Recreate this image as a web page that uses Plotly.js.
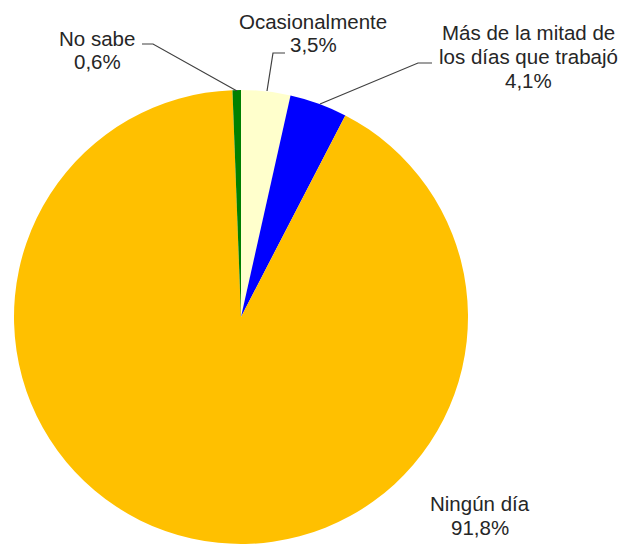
<!DOCTYPE html>
<html>
<head>
<meta charset="utf-8">
<script src="https://cdn.plot.ly/plotly-3.0.1.min.js"></script>
<style>
html,body{margin:0;padding:0;background:#fff;}
#chart{width:623px;height:545px;}
</style>
</head>
<body>
<div id="chart"></div>
<script>
// Data
const categories = ["Ocasionalmente", "Más de la mitad de<br>los días que trabajó", "Ningún día", "No sabe"];
const values = [3.5, 4.1, 91.8, 0.6];
const colors = ["#FFFFCC", "#0000FF", "#FFC000", "#008000"];

const W = 623, H = 545;
const px = x => x / W;
const py = y => (H - y) / H;

// Label centres (pixels) and leader-line paths (pixels)
const labelPos = [
  [313, 33],
  [528, 56.5],
  [480, 515.5],
  [97, 50]
];
const lineGap = 23.5;
const leaders = [
  [[285, 53], [273, 53], [267, 91]],
  [[432, 63], [418, 63], [320, 104]],
  null,
  [[142, 44], [153, 44], [237, 91]]
];

const fmt = v => v.toFixed(1).replace('.', ',') + '%';

const trace = {
  type: 'pie',
  labels: categories,
  values: values,
  marker: {colors: colors, line: {width: 0}},
  sort: false,
  direction: 'clockwise',
  rotation: 0,
  textinfo: 'none',
  hoverinfo: 'label+percent',
  domain: {x: [px(14), px(468)], y: [py(544), py(90)]},
  showlegend: false
};

const font = {family: 'Liberation Sans, Arial, sans-serif', size: 20.5, color: '#262626'};

const annotations = [];
categories.forEach((c, i) => {
  const lines = c.split('<br>').concat([fmt(values[i])]);
  const n = lines.length;
  lines.forEach((t, k) => {
    annotations.push({
      xref: 'paper', yref: 'paper',
      x: px(labelPos[i][0]),
      y: py(labelPos[i][1] + (k - (n - 1) / 2) * lineGap),
      xanchor: 'center', yanchor: 'middle',
      text: t,
      showarrow: false,
      align: 'center',
      font: font
    });
  });
});

const shapes = leaders.filter(l => l).map(l => ({
  type: 'path',
  xref: 'paper', yref: 'paper',
  path: 'M ' + l.map(p => px(p[0]) + ',' + py(p[1])).join(' L '),
  line: {color: '#404040', width: 1.2}
}));

const layout = {
  width: W, height: H,
  margin: {l: 0, r: 0, t: 0, b: 0},
  paper_bgcolor: '#ffffff',
  plot_bgcolor: '#ffffff',
  font: font,
  annotations: annotations,
  shapes: shapes
};

Plotly.newPlot('chart', [trace], layout, {displayModeBar: false, staticPlot: true});
</script>
</body>
</html>
